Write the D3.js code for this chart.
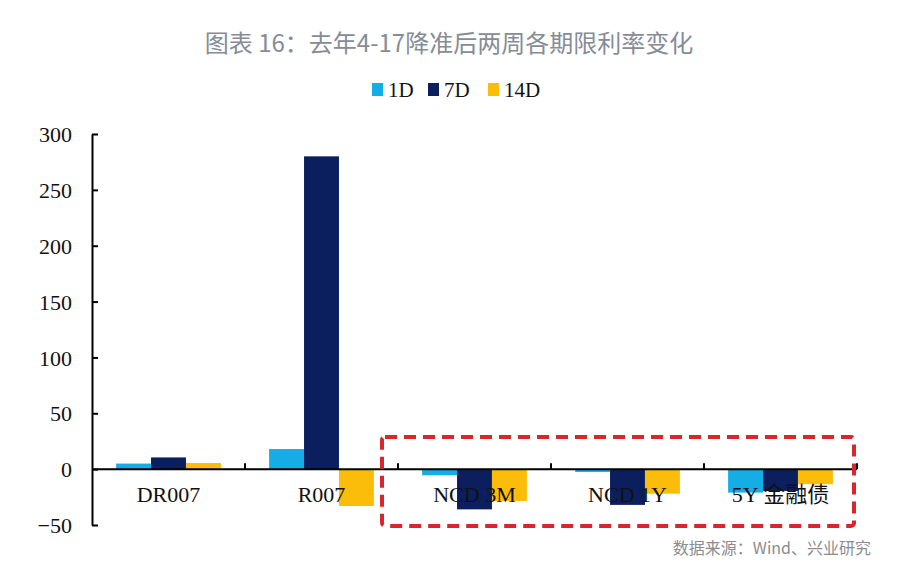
<!DOCTYPE html>
<html>
<head>
<meta charset="utf-8">
<script src="https://cdn.jsdelivr.net/npm/d3@7"></script>
<style>
  html, body { margin: 0; padding: 0; background: #fff; }
  svg { display: block; }
</style>
</head>
<body>
<svg id="chart" width="900" height="574"></svg>
<script>
// ---- data ----
const categories = ["DR007", "R007", "NCD 3M", "NCD 1Y", "5Y 金融债"];
const seriesNames = ["1D", "7D", "14D"];
const values1D  = [5, 18, -5.5, -2.5, -21];
const values7D  = [10.5, 280, -36, -32, -19.5];
const values14D = [5.5, -33, -28.5, -22, -13.5];
const yTicks = [-50, 0, 50, 100, 150, 200, 250, 300];
const titleText = "图表 16：去年4-17降准后两周各期限利率变化";
const sourceText = "数据来源：Wind、兴业研究";

(function () {
const colors = ["#15ade6", "#0b1f5e", "#fbbd0a"];
const seriesValues = [values1D, values7D, values14D];

const svg = d3.select("#chart");
const mLeft = 92, mRight = 857, mTop = 134, mBottom = 525;

const x = d3.scaleBand().domain(categories).range([mLeft, mRight]).paddingInner(0).paddingOuter(0);
const xInner = d3.scaleBand().domain(seriesNames).range([0, x.bandwidth()]).paddingInner(0).paddingOuter(0.69);
const y = d3.scaleLinear().domain([-50, 300]).range([mBottom, mTop]);

// title
svg.append("text")
  .attr("x", 449).attr("y", 52)
  .attr("text-anchor", "middle")
  .attr("font-family", "'Noto Sans CJK SC', 'Noto Sans', sans-serif")
  .attr("font-size", 24).attr("font-weight", 400)
  .attr("fill", "#858c96")
  .text(titleText);

// legend
const legendX = [372, 428, 488];
seriesNames.forEach((s, i) => {
  svg.append("rect").attr("x", legendX[i]).attr("y", 83).attr("width", 11).attr("height", 13).attr("fill", colors[i]);
  svg.append("text").attr("x", legendX[i] + 16).attr("y", 97)
    .attr("font-family", "'Liberation Serif', 'Times New Roman', serif")
    .attr("font-size", 21).attr("fill", "#111").text(s);
});

// y axis
const yAxis = d3.axisLeft(y).tickValues(yTicks).tickSizeInner(-6).tickSizeOuter(0).tickPadding(20);
const gy = svg.append("g").attr("transform", `translate(${mLeft},0)`).call(yAxis);
gy.select(".domain").attr("stroke", "#000").attr("stroke-width", 2);
gy.selectAll(".tick line").attr("stroke", "#000").attr("stroke-width", 2);
gy.selectAll(".tick text")
  .attr("font-family", "'Liberation Serif', 'Times New Roman', serif")
  .attr("font-size", 22).attr("fill", "#111").attr("dy", "0.35em");

// bars
categories.forEach((c, ci) => {
  seriesNames.forEach((s, si) => {
    const v = seriesValues[si][ci];
    svg.append("rect")
      .attr("x", x(c) + xInner(s))
      .attr("width", xInner.bandwidth())
      .attr("y", y(Math.max(0, v)))
      .attr("height", Math.abs(y(v) - y(0)))
      .attr("fill", colors[si]);
  });
});

// x axis line at zero with inner ticks at category boundaries
const gx = svg.append("g");
gx.append("line").attr("x1", mLeft).attr("x2", mRight).attr("y1", y(0)).attr("y2", y(0))
  .attr("stroke", "#000").attr("stroke-width", 2);
categories.forEach((c) => {
  const bx = x(c) + x.bandwidth();
  gx.append("line").attr("x1", bx).attr("x2", bx).attr("y1", y(0)).attr("y2", y(0) - 6)
    .attr("stroke", "#000").attr("stroke-width", 2);
});

// category labels (on top of bars)
categories.forEach((c) => {
  svg.append("text")
    .attr("x", x(c) + x.bandwidth() / 2).attr("y", 502)
    .attr("text-anchor", "middle")
    .attr("font-family", "'Liberation Serif', 'Times New Roman', 'Noto Sans CJK SC', serif")
    .attr("font-size", 22).attr("fill", "#111")
    .text(c);
});

// red dashed highlight box
svg.append("rect")
  .attr("x", 382).attr("y", 437).attr("width", 472).attr("height", 89)
  .attr("rx", 3)
  .attr("fill", "none").attr("stroke", "#d7262d").attr("stroke-width", 4)
  .attr("stroke-dasharray", "12,7");

// source
svg.append("text")
  .attr("x", 871).attr("y", 554)
  .attr("text-anchor", "end")
  .attr("font-family", "'Noto Sans CJK SC', 'Noto Sans', sans-serif")
  .attr("font-size", 16).attr("fill", "#8c8c8c")
  .text(sourceText);
})();
</script>
</body>
</html>
